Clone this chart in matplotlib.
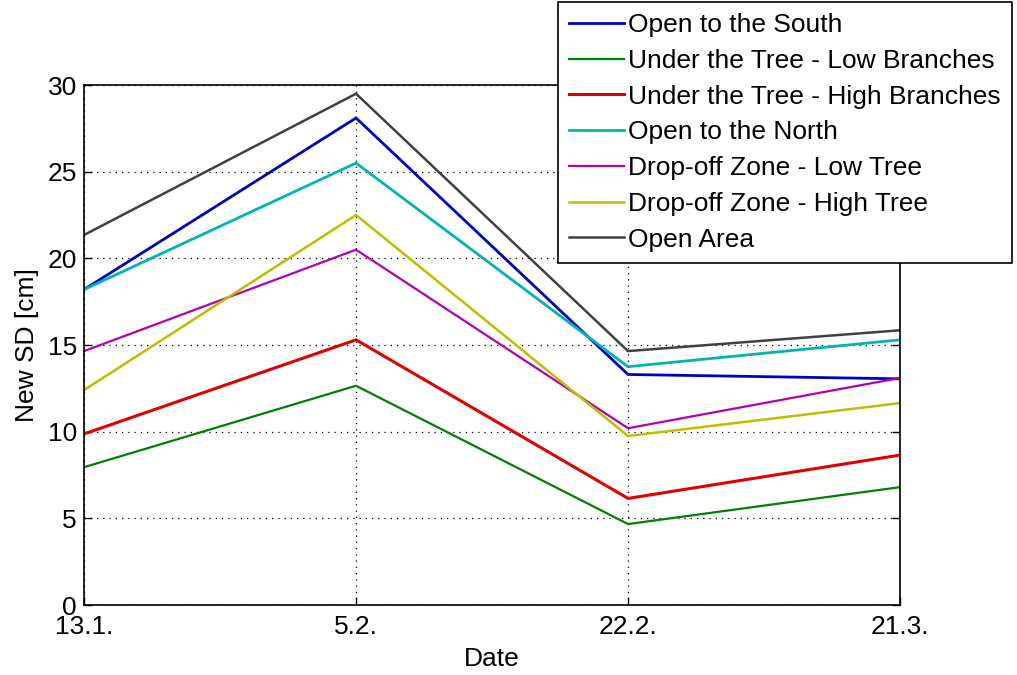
import matplotlib
matplotlib.use("Agg")
import matplotlib.pyplot as plt

plt.rcParams['font.family'] = ['Liberation Sans', 'DejaVu Sans']

dates = ["13.1.", "5.2.", "22.2.", "21.3."]
series_names = [
    "Open to the South",
    "Under the Tree - Low Branches",
    "Under the Tree - High Branches",
    "Open to the North",
    "Drop-off Zone - Low Tree",
    "Drop-off Zone - High Tree",
    "Open Area",
]
open_south = [18.2, 28.1, 13.3, 13.05]
tree_low = [7.95, 12.65, 4.67, 6.8]
tree_high = [9.87, 15.3, 6.15, 8.65]
open_north = [18.2, 25.5, 13.75, 15.3]
drop_low = [14.65, 20.5, 10.2, 13.1]
drop_high = [12.4, 22.5, 9.75, 11.65]
open_area = [21.35, 29.5, 14.65, 15.85]

values = [open_south, tree_low, tree_high, open_north, drop_low, drop_high, open_area]
colors = ["#0000c0", "#008000", "#e00000", "#00b4b4", "#b400b4", "#bebe00", "#404040"]
widths = [2.0, 1.6, 2.2, 2.0, 1.6, 1.8, 1.8]

fig = plt.figure(figsize=(10.17, 6.75), dpi=100)
ax = fig.add_axes([0.0826, 0.1037, 0.8024, 0.7703])
x = list(range(len(dates)))
for name, vals, c, w in zip(series_names, values, colors, widths):
    ax.plot(x, vals, color=c, lw=w, label=name)

ax.set_xlim(0, 3)
ax.set_ylim(0, 30)
ax.set_xticks(x)
ax.set_xticklabels(dates)
ax.set_yticks([0, 5, 10, 15, 20, 25, 30])
ax.tick_params(direction='in', labelsize=19, length=6, width=1, top=False, right=True)
ax.tick_params(axis='x', pad=7)
ax.tick_params(axis='y', pad=5)
ax.grid(True, color='black', linestyle=(0, (1, 4)), linewidth=0.9)
for s in ax.spines.values():
    s.set_linewidth(1.2)
ax.set_xlabel("Date", fontsize=19, labelpad=6)
ax.set_ylabel("New SD [cm]", fontsize=19, labelpad=6)

leg = fig.legend(loc='upper right', bbox_to_anchor=(0.995, 0.997), fontsize=19,
                 frameon=True, fancybox=False, edgecolor='black', framealpha=1,
                 handlelength=2.1, handletextpad=0.15, borderpad=0.42,
                 labelspacing=0.445, borderaxespad=0)
leg.get_frame().set_linewidth(1.2)

fig.savefig("out.png", dpi=100)
